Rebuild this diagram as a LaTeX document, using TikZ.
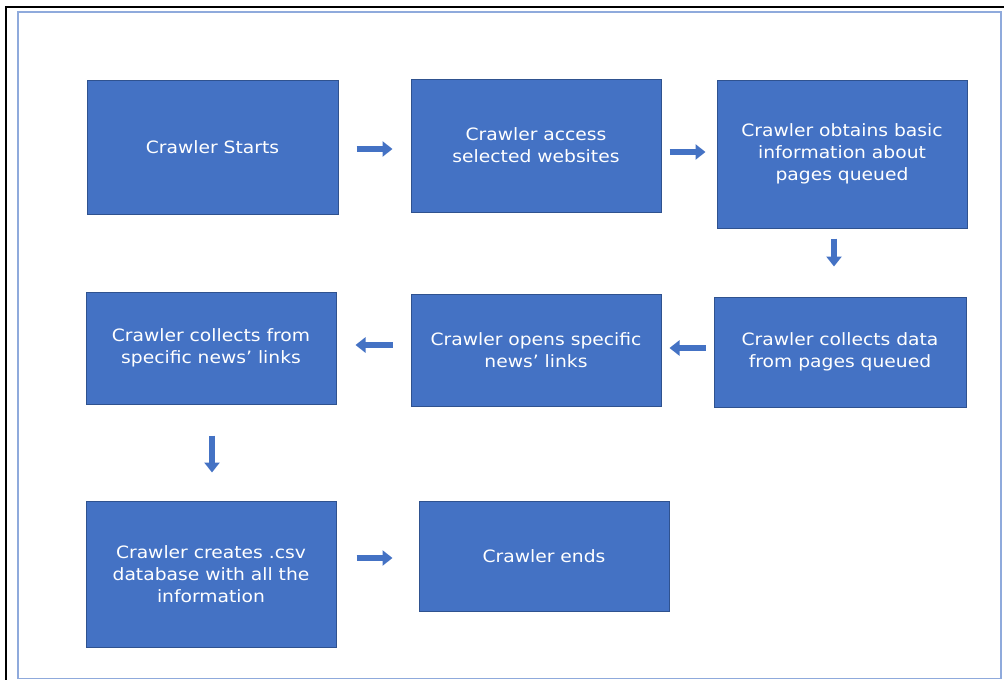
\documentclass[tikz,border=0pt]{standalone}
\usepackage{fontspec}
\setmainfont{DejaVu Sans}
\newfontfamily\boxfont[FakeStretch = 1.1]{DejaVu Sans}
\usetikzlibrary{arrows.meta}

\definecolor{boxblue}{HTML}{4472C4}
\definecolor{boxedge}{HTML}{2F528F}
\definecolor{frameblue}{HTML}{8FAADC}

\tikzset{
	stepbox/.style = {draw = boxedge, line width = 1pt, fill = boxblue, text = white, align = center,
		minimum width = 250pt, inner sep = 0pt, font = \boxfont\fontsize{17}{22}\selectfont},
	flow/.style = {draw = boxblue, line width = 6pt, -{Triangle[length = 10pt, width = 15pt]}}
}

\begin{document}
\begin{tikzpicture}[x = 1pt, y = -1pt]
	\useasboundingbox (0,0) rectangle (1004,680);

	% page frame
	\draw [line width = 1.5pt] (6,690) -- (6,7) -- (1010,7);
	\draw [frameblue, line width = 1.5pt] (18,12) rectangle (1001,678.5);

	\node [stepbox, minimum width = 251pt, minimum height = 134pt] (start) at (212.5,147) {Crawler Starts};
	\node [stepbox, minimum height = 133pt] (access) at (536,145.5) {Crawler access\\selected websites};
	\node [stepbox, minimum height = 148pt] (obtain) at (842,154) {Crawler obtains basic\\information about\\pages queued};
	\node [stepbox, minimum width = 252pt, minimum height = 110pt] (data) at (840,352) {Crawler collects data\\from pages queued};
	\node [stepbox, minimum height = 112pt] (opens) at (536,350) {Crawler opens specific\\news’ links};
	\node [stepbox, minimum height = 112pt] (collect) at (211,348) {Crawler collects from\\specific news’ links};
	\node [stepbox, minimum height = 146pt] (csv) at (211,574) {Crawler creates .csv\\database with all the\\information};
	\node [stepbox, minimum height = 110pt] (ends) at (544,556) {Crawler ends};

	\draw [flow, shorten < = 18pt, shorten > = 18pt] (start.east |- 0,149) -- (access.west |- 0,149);
	\draw [flow, shorten < = 8pt, shorten > = 11pt] (access.east |- 0,152) -- (obtain.west |- 0,152);
	\draw [flow, shorten < = 10pt, shorten > = 30pt] (obtain.south -| 834,0) -- (data.north -| 834,0);
	\draw [flow, shorten < = 8pt, shorten > = 8pt] (data.west |- 0,348) -- (opens.east |- 0,348);
	\draw [flow, shorten < = 18pt, shorten > = 19pt] (opens.west |- 0,345) -- (collect.east |- 0,345);
	\draw [flow, shorten < = 31pt, shorten > = 28pt] (collect.south -| 212,0) -- (csv.north -| 212,0);
	\draw [flow, shorten < = 20pt, shorten > = 26pt] (csv.east |- 0,558) -- (ends.west |- 0,558);
\end{tikzpicture}
\end{document}
